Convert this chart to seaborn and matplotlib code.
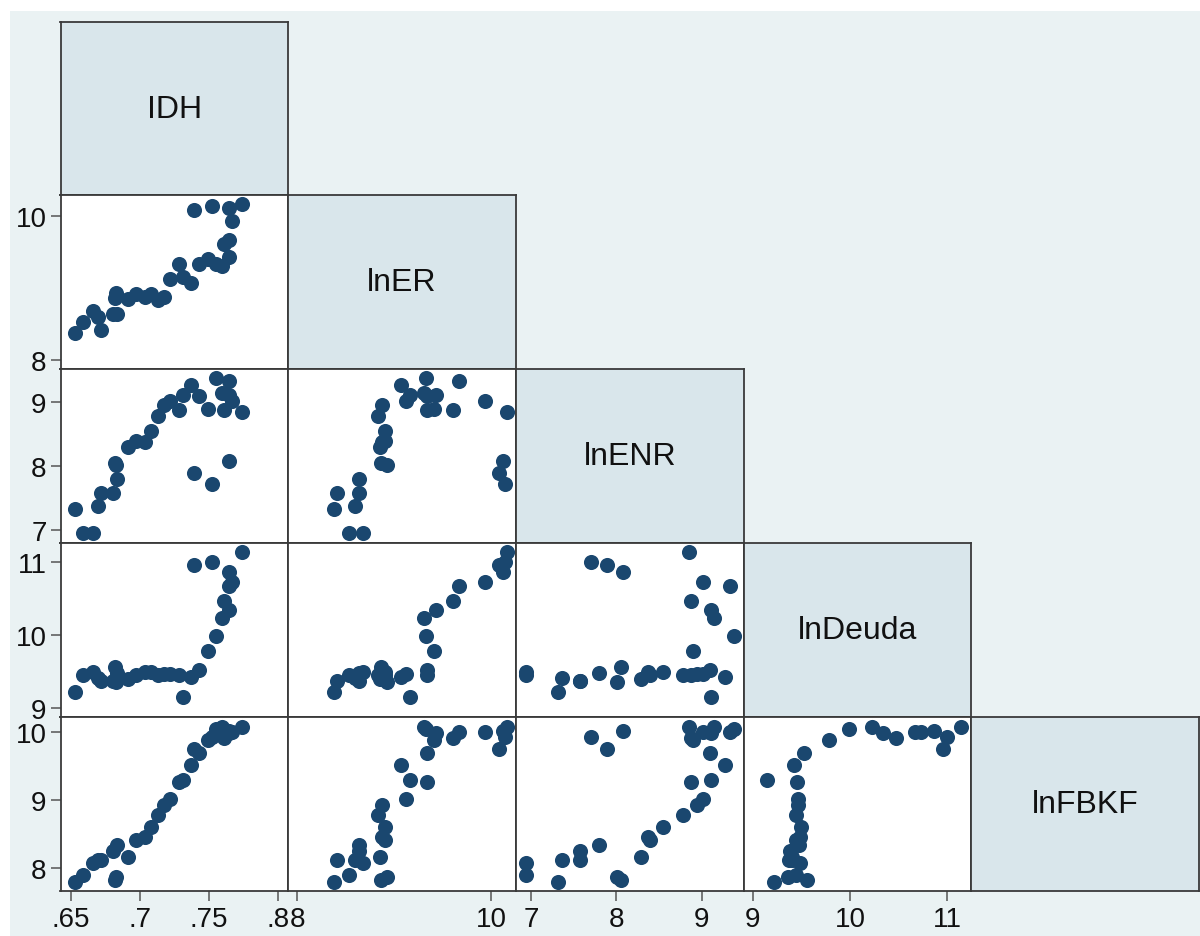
import numpy as np
import pandas as pd
import matplotlib
matplotlib.use("Agg")
import matplotlib.pyplot as plt
from matplotlib.patches import Rectangle
import seaborn as sns

# ---- data -----------------------------------------------------------------
variables = ["IDH", "lnER", "lnENR", "lnDeuda", "lnFBKF"]

idh = [0.653, 0.659, 0.666, 0.6696, 0.6715, 0.6805, 0.683, 0.6817, 0.6829,
       0.691, 0.6973, 0.7032, 0.708, 0.7128, 0.7176, 0.7215, 0.7284, 0.7308,
       0.7368, 0.7428, 0.7495, 0.7548, 0.7596, 0.7644, 0.7608, 0.7644, 0.7665,
       0.7735, 0.7392, 0.7524, 0.7647]
ln_er = [8.38, 8.53, 8.68, 8.60, 8.41, 8.64, 8.64, 8.86, 8.93,
         8.85, 8.91, 8.88, 8.91, 8.83, 8.88, 9.12, 9.34, 9.16,
         9.075, 9.34, 9.41, 9.33, 9.31, 9.43, 9.61, 9.67, 9.94,
         10.17, 10.08, 10.145, 10.12]
ln_enr = [7.32, 6.94, 6.94, 7.37, 7.58, 7.58, 7.80, 8.05, 8.01,
          8.29, 8.39, 8.375, 8.55, 8.78, 8.95, 9.015, 8.88, 9.11,
          9.27, 9.10, 8.895, 9.38, 9.14, 9.11, 8.87, 9.33, 9.02,
          8.85, 7.89, 7.71, 8.08]
ln_deuda = [9.22, 9.45, 9.49, 9.41, 9.37, 9.38, 9.48, 9.56, 9.36,
            9.40, 9.45, 9.49, 9.50, 9.45, 9.47, 9.47, 9.456, 9.15,
            9.425, 9.53, 9.78, 9.99, 10.23, 10.34, 10.47, 10.67, 10.73,
            11.14, 10.96, 11.00, 10.86]
ln_fbkf = [7.80, 7.89, 8.07, 8.11, 8.12, 8.25, 8.34, 7.82, 7.86,
           8.16, 8.41, 8.46, 8.61, 8.78, 8.93, 9.01, 9.26, 9.29,
           9.51, 9.70, 9.88, 10.05, 10.08, 9.99, 9.92, 10.01, 10.01,
           10.07, 9.75, 9.93, 10.02]

x_ticks = {
    "IDH": ([0.65, 0.70, 0.75, 0.80], [".65", ".7", ".75", ".8"]),
    "lnER": ([8, 10], ["8", "10"]),
    "lnENR": ([7, 8, 9], ["7", "8", "9"]),
    "lnDeuda": ([9, 10, 11], ["9", "10", "11"]),
}
y_ticks = {
    "lnER": ([8, 10], ["8", "10"]),
    "lnENR": ([7, 8, 9], ["7", "8", "9"]),
    "lnDeuda": ([9, 10, 11], ["9", "10", "11"]),
    "lnFBKF": ([8, 9, 10], ["8", "9", "10"]),
}
x_limits = {"IDH": (0.6424, 0.8072), "lnER": (7.907, 10.258),
            "lnENR": (6.825, 9.491), "lnDeuda": (8.908, 11.246)}
y_limits = {"lnER": (7.869, 10.289), "lnENR": (6.79, 9.516),
            "lnDeuda": (8.884, 11.263), "lnFBKF": (7.668, 10.228)}

df = pd.DataFrame({"IDH": idh, "lnER": ln_er, "lnENR": ln_enr,
                   "lnDeuda": ln_deuda, "lnFBKF": ln_fbkf})

# ---- style ----------------------------------------------------------------
NAVY = "#1A476F"
BG = "#EAF2F3"
DIAG = "#D9E6EB"
EDGE = "#3A3A3A"

sns.set_theme(style="white")
plt.rcParams["font.family"] = ["Liberation Sans", "DejaVu Sans"]

W, H = 1200, 937
g = sns.PairGrid(df, vars=variables, corner=True, despine=False, height=2.0)
g.map_lower(sns.scatterplot, color=NAVY, s=118, linewidth=0)

fig = g.figure
fig.set_size_inches(W / 100, H / 100)
fig.set_dpi(100)
fig.patch.set_facecolor("white")
fig.subplots_adjust(left=60.5 / W, right=1199 / W, top=1 - 22.7 / H,
                    bottom=1 - 891.5 / H, wspace=0, hspace=0)
fig.add_artist(Rectangle((10 / W, 0), 1 - 10 / W, 1 - 12 / H,
                         transform=fig.transFigure, facecolor=BG,
                         edgecolor="none", zorder=-10))

n = len(variables)
for i in range(n):
    for j in range(i + 1):
        ax = g.axes[i, j]
        ax.set_xlabel("")
        ax.set_ylabel("")
        for sp in ax.spines.values():
            sp.set_color(EDGE)
            sp.set_linewidth(1.3)
        show_x = (i == n - 1 and j < n - 1)
        show_y = (j == 0 and i > 0)
        ax.tick_params(axis="x", bottom=show_x, labelbottom=show_x,
                       length=7, width=1.1, color="#555555", pad=4,
                       labelsize=20, labelcolor="#111111")
        ax.tick_params(axis="y", left=show_y, labelleft=show_y,
                       length=7, width=1.1, color="#555555", pad=3,
                       labelsize=20, labelcolor="#111111")
        if i == j:
            ax.set_facecolor(DIAG)
            ax.text(0.5, 0.5, variables[i], transform=ax.transAxes,
                    ha="center", va="center", fontsize=23, color="#111111")
        else:
            ax.set_facecolor("white")

for j, var in enumerate(variables[:-1]):
    ax = g.axes[n - 1, j]
    ticks, labels = x_ticks[var]
    ax.set_xlim(*x_limits[var])
    ax.set_xticks(ticks, labels)

for i, var in enumerate(variables[1:], start=1):
    ax = g.axes[i, 0]
    ticks, labels = y_ticks[var]
    ax.set_ylim(*y_limits[var])
    ax.set_yticks(ticks, labels)

fig.savefig("out.png", dpi=100, facecolor="white")
